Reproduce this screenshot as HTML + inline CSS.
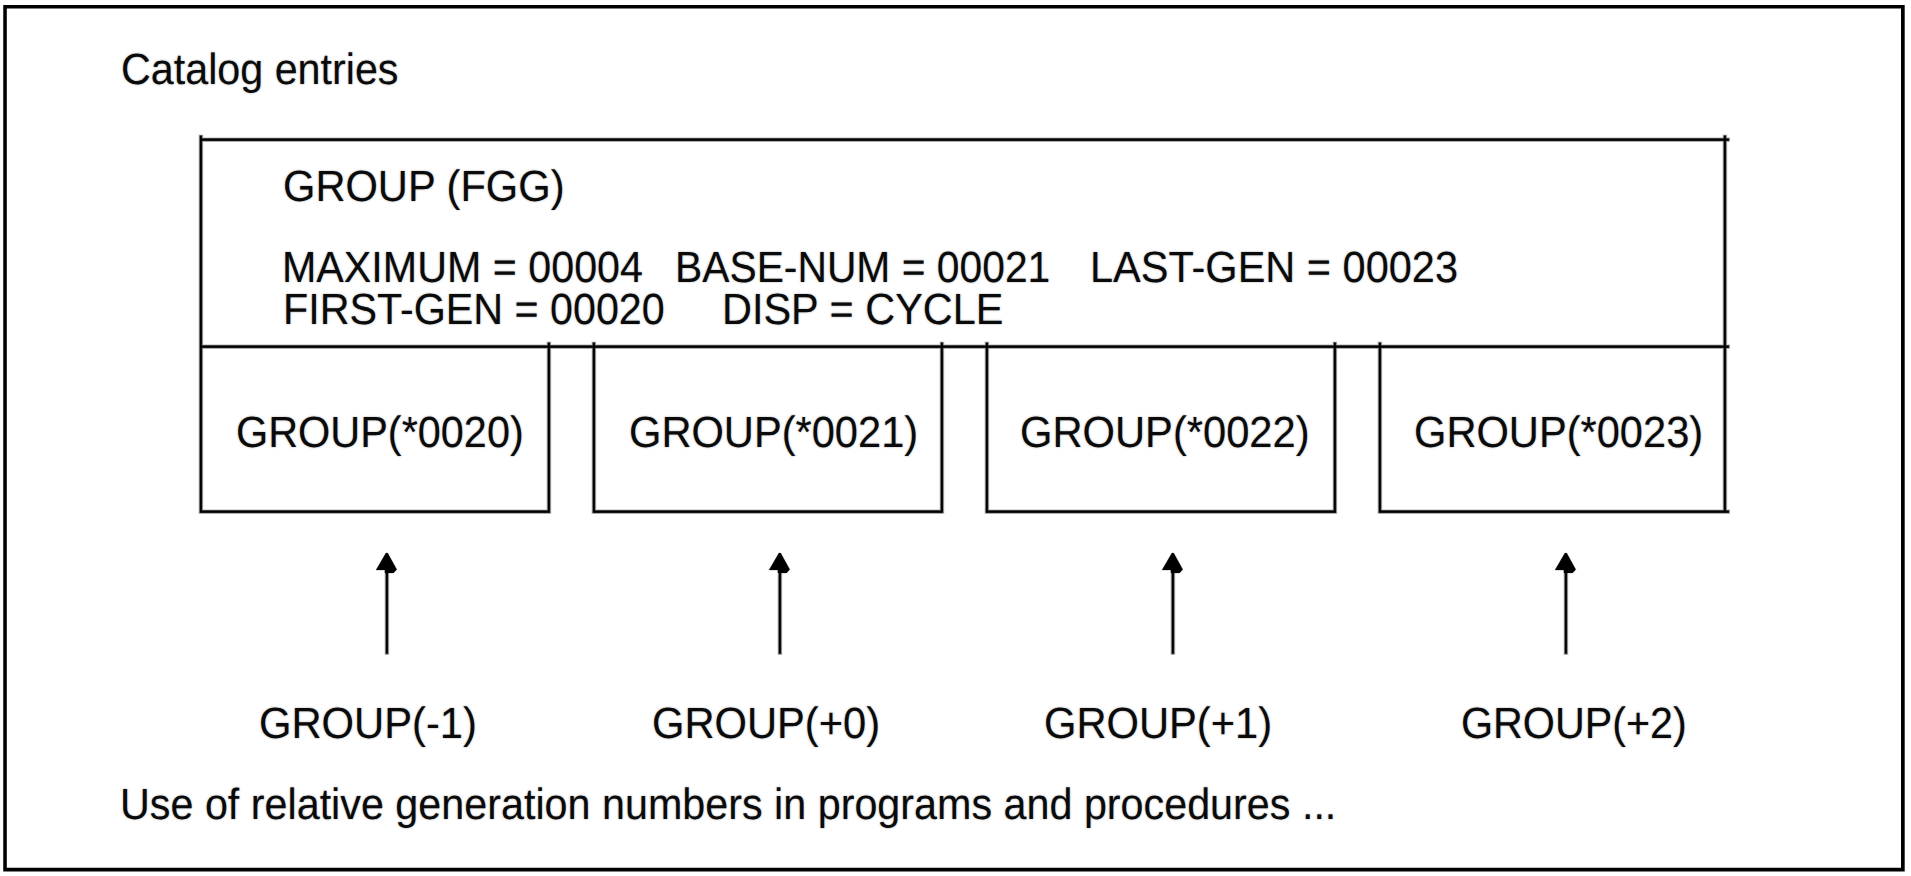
<!DOCTYPE html>
<html lang="en">
<head>
<meta charset="utf-8">
<title>Catalog entries - file generation group</title>
<style>
html,body{margin:0;padding:0;background:#fff;}
body{width:1911px;height:876px;overflow:hidden;position:relative;}
#fig{position:absolute;left:0;top:0;width:1911px;height:876px;background:#fff;overflow:hidden;}
#fig svg{position:absolute;left:0;top:0;}
#inner{position:absolute;left:0;top:0;width:1911px;height:876px;}
.t{position:absolute;font-family:"Liberation Sans",Arial,Helvetica,sans-serif;font-size:41.4px;line-height:1;white-space:pre;text-rendering:geometricPrecision;color:rgba(0,0,0,0.95);text-shadow:0 0 2.0px rgba(0,0,0,0.4);transform-origin:0 0;}
</style>
</head>
<body>
<div id="fig">
<div id="inner">
<svg width="1911" height="876" viewBox="0 0 1911 876">
<path d="M198.70 139.70H1730.10M198.70 346.70H1730.10M200.90 134.50V513.90M1724.90 134.50V513.90M548.90 341.50V513.90M198.70 511.70H551.10M593.90 341.50V513.90M941.90 341.50V513.90M591.70 511.70H944.10M986.90 341.50V513.90M1334.90 341.50V513.90M984.70 511.70H1337.10M1379.90 341.50V513.90M1377.70 511.70H1730.10M386.90 564.30V654.90M779.90 564.30V654.90M1172.90 564.30V654.90M1565.90 564.30V654.90" fill="none" stroke="#000" stroke-opacity="0.2" stroke-width="4.8"/>
<path d="M199.40 139.70H1729.40M199.40 346.70H1729.40M200.90 135.20V513.20M1724.90 135.20V513.20M548.90 342.20V513.20M199.40 511.70H550.40M593.90 342.20V513.20M941.90 342.20V513.20M592.40 511.70H943.40M986.90 342.20V513.20M1334.90 342.20V513.20M985.40 511.70H1336.40M1379.90 342.20V513.20M1378.40 511.70H1729.40M386.90 565.00V654.20M779.90 565.00V654.20M1172.90 565.00V654.20M1565.90 565.00V654.20" fill="none" stroke="#000" stroke-opacity="0.6" stroke-width="3.2"/>
<path d="M200.00 139.70H1728.80M200.00 346.70H1728.80M200.90 135.80V512.60M1724.90 135.80V512.60M548.90 342.80V512.60M200.00 511.70H549.80M593.90 342.80V512.60M941.90 342.80V512.60M593.00 511.70H942.80M986.90 342.80V512.60M1334.90 342.80V512.60M986.00 511.70H1335.80M1379.90 342.80V512.60M1379.00 511.70H1728.80M386.90 565.60V653.60M779.90 565.60V653.60M1172.90 565.60V653.60M1565.90 565.60V653.60" fill="none" stroke="#000" stroke-width="1.9"/>
<polygon points="385.9,553.0 376.0,570.0 384.9,570.0 384.9,572.9 393.6,572.9 396.8,569.5 387.7,553.0" fill="#000" stroke="#000" stroke-opacity="0.25" stroke-width="1.0" stroke-linejoin="round"/>
<polygon points="778.9,553.0 769.0,570.0 777.9,570.0 777.9,572.9 786.6,572.9 789.8,569.5 780.7,553.0" fill="#000" stroke="#000" stroke-opacity="0.25" stroke-width="1.0" stroke-linejoin="round"/>
<polygon points="1171.9,553.0 1162.0,570.0 1170.9,570.0 1170.9,572.9 1179.6,572.9 1182.8,569.5 1173.7,553.0" fill="#000" stroke="#000" stroke-opacity="0.25" stroke-width="1.0" stroke-linejoin="round"/>
<polygon points="1564.9,553.0 1555.0,570.0 1563.9,570.0 1563.9,572.9 1572.6,572.9 1575.8,569.5 1566.7,553.0" fill="#000" stroke="#000" stroke-opacity="0.25" stroke-width="1.0" stroke-linejoin="round"/>
</svg>
<div class="t" style="left:121.18px;top:48.01px;transform:scale(0.9967,1.055)">Catalog entries</div>
<div class="t" style="left:283.15px;top:165.01px;transform:scale(1.0063,1.055)">GROUP (FGG)</div>
<div class="t" style="left:282.48px;top:246.01px;transform:scale(0.9962,1.055)">MAXIMUM = 00004</div>
<div class="t" style="left:674.51px;top:246.01px;transform:scale(0.9857,1.055)">BASE-NUM = 00021</div>
<div class="t" style="left:1089.71px;top:246.01px;transform:scale(1.0029,1.055)">LAST-GEN = 00023</div>
<div class="t" style="left:282.62px;top:288.01px;transform:scale(0.9967,1.055)">FIRST-GEN = 00020</div>
<div class="t" style="left:721.92px;top:288.01px;transform:scale(1.0014,1.055)">DISP = CYCLE</div>
<div class="t" style="left:236.17px;top:411.01px;transform:scale(1.0006,1.055)">GROUP(*0020)</div>
<div class="t" style="left:628.95px;top:411.01px;transform:scale(1.0057,1.055)">GROUP(*0021)</div>
<div class="t" style="left:1020.29px;top:411.01px;transform:scale(1.0073,1.055)">GROUP(*0022)</div>
<div class="t" style="left:1413.95px;top:411.01px;transform:scale(1.0057,1.055)">GROUP(*0023)</div>
<div class="t" style="left:258.93px;top:702.01px;transform:scale(1.0084,1.055)">GROUP(-1)</div>
<div class="t" style="left:652.34px;top:702.01px;transform:scale(1.0065,1.055)">GROUP(+0)</div>
<div class="t" style="left:1044.49px;top:702.01px;transform:scale(1.0065,1.055)">GROUP(+1)</div>
<div class="t" style="left:1461.20px;top:702.01px;transform:scale(0.9966,1.055)">GROUP(+2)</div>
<div class="t" style="left:120.41px;top:783.01px;transform:scale(0.9975,1.055)">Use of relative generation numbers in programs and procedures ...</div>
</div>
<svg width="1911" height="876" viewBox="0 0 1911 876">
<path fill="#000" fill-rule="evenodd" d="M3.25 5.05H1904.7V871.4H3.25Z M6.8 8.5V867.8H1901.0V8.5Z"/>
</svg>
</div>
</body>
</html>
